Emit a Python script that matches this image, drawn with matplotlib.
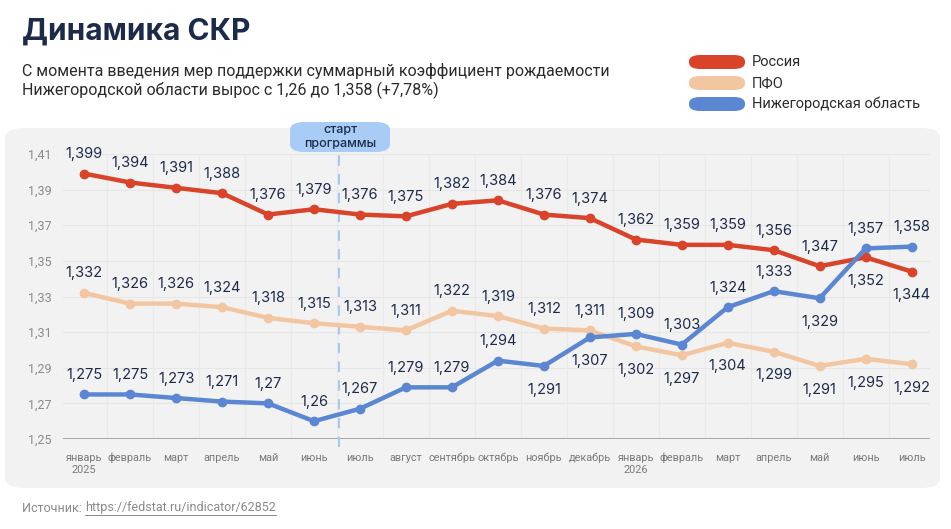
import matplotlib
matplotlib.use("Agg")
import matplotlib.pyplot as plt
from matplotlib.patches import FancyBboxPatch

months = ["январь\n2025", "февраль", "март", "апрель", "май", "июнь", "июль",
          "август", "сентябрь", "октябрь", "ноябрь", "декабрь", "январь\n2026",
          "февраль", "март", "апрель", "май", "июнь", "июль"]

russia = [1.399, 1.394, 1.391, 1.388, 1.376, 1.379, 1.376, 1.375, 1.382, 1.384,
          1.376, 1.374, 1.362, 1.359, 1.359, 1.356, 1.347, 1.352, 1.344]
pfo = [1.332, 1.326, 1.326, 1.324, 1.318, 1.315, 1.313, 1.311, 1.322, 1.319,
       1.312, 1.311, 1.302, 1.297, 1.304, 1.299, 1.291, 1.295, 1.292]
nizh = [1.275, 1.275, 1.273, 1.271, 1.27, 1.26, 1.267, 1.279, 1.279, 1.294,
        1.291, 1.307, 1.309, 1.303, 1.324, 1.333, 1.329, 1.357, 1.358]

yticks = [1.25, 1.27, 1.29, 1.31, 1.33, 1.35, 1.37, 1.39, 1.41]

# which labels go under the point
below = {
    "russia": {17, 18},
    "pfo": {12, 13, 14, 15, 16, 17, 18},
    "nizh": {10, 11, 16},
}

RED = "#d8432a"
PEACH = "#f2c6a0"
BLUE = "#5b86d1"
NAVY = "#1c2b4a"
GREY = "#7a7a7a"

fig = plt.figure(figsize=(9.51, 5.29), dpi=100)
fig.patch.set_facecolor("white")

# panel background
panel = FancyBboxPatch((5 / 951, 1 - 488 / 529), 935 / 951, 360 / 529,
                       boxstyle="round,pad=0,rounding_size=0.02",
                       transform=fig.transFigure, facecolor="#f2f2f2",
                       edgecolor="none", zorder=-10)
fig.add_artist(panel)

ax = fig.add_axes([63 / 951, 90 / 529, 867 / 951, 285 / 529])
ax.set_facecolor("none")
x = list(range(len(months)))

for vals, col, key in [(russia, RED, "russia"), (pfo, PEACH, "pfo"), (nizh, BLUE, "nizh")]:
    ax.plot(x, vals, color=col, lw=3.2, marker="o", ms=6, solid_capstyle="round",
            zorder=3)
    for i, v in enumerate(vals):
        s = ("%g" % v).replace(".", ",")
        if i in below[key]:
            ax.annotate(s, (i, v), xytext=(0, -12), textcoords="offset points",
                        ha="center", va="top", fontsize=10.5, color=NAVY,
                        family="Inter", zorder=5)
        else:
            ax.annotate(s, (i, v), xytext=(0, 9), textcoords="offset points",
                        ha="center", va="bottom", fontsize=10.5, color=NAVY,
                        family="Inter", zorder=5)

ax.set_xlim(-0.46, 18.4)
ax.set_ylim(1.25, 1.41)
ax.set_yticks(yticks)
ax.set_yticklabels([("%.2f" % t).replace(".", ",") for t in yticks],
                   fontsize=9, color="#8a8a8a", family="Roboto")
ax.set_xticks(x)
ax.set_xticklabels(months, fontsize=7.8, color=GREY, family="Roboto",
                   linespacing=1.3)
ax.tick_params(length=0, pad=10, axis="x")
ax.tick_params(length=0, pad=8, axis="y")
for sp in ax.spines.values():
    sp.set_visible(False)
ax.axhline(1.25, color="#9a9a9a", lw=1.2, zorder=2)
for t in yticks[1:]:
    ax.axhline(t, color="#e6e6e6", lw=0.8, zorder=1)
for i in x[:-1]:
    ax.axvline(i + 0.5, color="#e9e9e9", lw=0.8, zorder=1)

# start of the programme
ax.plot([5.55, 5.55], [1.2455, 1.413], color="#a8c8f0", lw=1.5,
        ls=(0, (5, 4)), clip_on=False, zorder=2)
badge = FancyBboxPatch((290 / 951, 1 - 152 / 529), 100 / 951, 30 / 529,
                       boxstyle="round,pad=0,rounding_size=0.015",
                       transform=fig.transFigure, facecolor="#a9ccf7",
                       edgecolor="none", zorder=4)
fig.add_artist(badge)
fig.text(340 / 951, 1 - 137 / 529, "старт\nпрограммы", ha="center", va="center",
         fontsize=9, color=NAVY, family="Inter", fontweight="medium",
         linespacing=1.15, zorder=6)

# titles
fig.text(22 / 951, 1 - 32 / 529, "Динамика СКР", fontsize=21.5, fontweight="bold",
         color=NAVY, family="Inter", va="center")
fig.text(22 / 951, 1 - 81 / 529,
         "С момента введения мер поддержки суммарный коэффициент рождаемости\n"
         "Нижегородской области вырос с 1,26 до 1,358 (+7,78%)",
         fontsize=11.5, color="#2b2b2b", family="Roboto", va="center",
         linespacing=1.22)

# legend
for j, (lab, col) in enumerate([("Россия", RED), ("ПФО", PEACH),
                                ("Нижегородская область", BLUE)]):
    yc = 62 + j * 21
    sw = FancyBboxPatch((689 / 951, 1 - (yc + 7) / 529), 56 / 951, 14 / 529,
                        boxstyle="round,pad=0,rounding_size=0.012",
                        transform=fig.transFigure, facecolor=col,
                        edgecolor="none")
    fig.add_artist(sw)
    fig.text(752 / 951, 1 - yc / 529, lab, fontsize=10.5, color="#2b2b2b",
             family="Roboto", va="center")

# source
src = fig.text(22 / 951, 1 - 508 / 529, "Источник: ", fontsize=9, color="#8a8a8a",
               family="Roboto", va="center")
fig.canvas.draw()
bb = src.get_window_extent()
link = fig.text(bb.x1 / fig.bbox.width, 1 - 508 / 529,
                "https://fedstat.ru/indicator/62852", fontsize=9, color="#8a8a8a",
                family="Roboto", va="center")
link_bb = link.get_window_extent(fig.canvas.get_renderer())
fig.add_artist(plt.Line2D([bb.x1 / fig.bbox.width, link_bb.x1 / fig.bbox.width],
                          [1 - 515 / 529] * 2, transform=fig.transFigure,
                          color="#8a8a8a", lw=0.7))

fig.savefig("out.png", dpi=100)
